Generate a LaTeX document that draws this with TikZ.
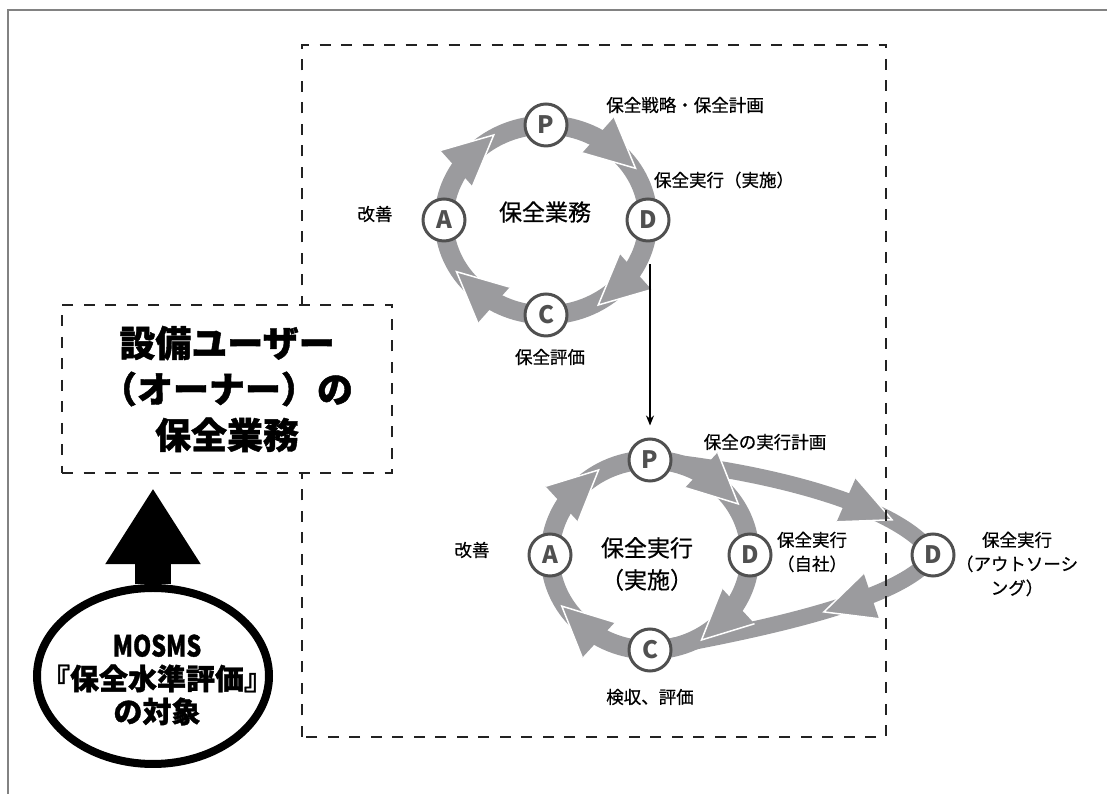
\documentclass[tikz,border=0pt]{standalone}
\usepackage{fontspec}
\usepackage{graphicx}
\setmainfont{Noto Sans CJK JP}
\newfontfamily\lblfont{Noto Sans CJK JP}[FakeBold=0.6]
\newfontfamily\heavyfont{Noto Sans CJK JP}[BoldFeatures={FakeBold=1.2}]
\usetikzlibrary{arrows.meta,shapes.geometric,decorations.markings}
\pgfdeclarelayer{bg}
\pgfsetlayers{bg,main}
\definecolor{ringgray}{RGB}{155,155,158}
\definecolor{nodegray}{RGB}{80,80,80}
\definecolor{dashc}{RGB}{34,34,34}
\definecolor{framegray}{RGB}{130,130,130}
\newcommand\ringhead{\fill[ringgray] (-25,24) -- (25,0) -- (-25,-24) -- cycle;
  \draw[white,line width=1.5pt,line join=miter] (-25,24) -- (25,0) -- (-25,-24);}
\begin{document}
\begin{tikzpicture}[x=1pt,y=1pt,
  pdca/.style={circle, draw=nodegray, line width=3pt, fill=white, minimum size=42pt, inner sep=0pt,
    font=\fontsize{24}{24}\selectfont\bfseries, text=nodegray},
  lbl/.style={font=\lblfont\fontsize{17.5}{24}\selectfont, align=center, inner sep=0pt},
  biglbl/.style={font=\lblfont\fontsize{23}{32}\selectfont, align=center, inner sep=0pt},
  ring/.style={draw=ringgray, line width=19pt},
  oring/.style={draw=ringgray, line width=16pt},
  headat/.style={postaction={decorate}, decoration={markings, mark=at position #1 with {\ringhead}}},
  dashbox/.style={draw=dashc, line width=2.5pt, dash pattern=on 11pt off 10.5pt}
]
\useasboundingbox (0,0) rectangle (1107,794);
\draw[framegray, line width=2pt] (8,0) -- (8,784) -- (1107,784);
\draw[dashbox] (302,57) rectangle (886,749);

% left box
\node[dashbox, fill=white, minimum width=330pt, minimum height=168pt, inner sep=0pt,
  font=\heavyfont\fontsize{36}{46}\selectfont\bfseries, align=center] (box) at (227,405)
  {設備ユーザー\\（オーナー）の\\保全業務};

% ellipse
\node[ellipse, draw=black, line width=8pt, fill=white, minimum width=232pt, minimum height=176pt,
  inner sep=0pt] (ell) at (153,118) {};
\node[font=\heavyfont\fontsize{29}{33}\selectfont\bfseries, align=center, inner sep=0pt] (elltext) at (157,114)
  {\scalebox{0.8}[1]{MOSMS}\\『保全水準評価』\\の対象};
\begin{pgfonlayer}{bg}
\draw[line width=36pt, -{Triangle[length=76pt,width=90pt]}, shorten >=14pt] (ell.north) -- (ell.north |- box.south);
\end{pgfonlayer}

% top cycle
\node[pdca] (tP) at (546,669) {P};
\node[pdca] (tD) at (648,574) {D};
\node[pdca] (tC) at (546,479) {C};
\node[pdca] (tA) at (444,574) {A};
\node[biglbl] (tcap) at (545,582) {保全業務};
\node[lbl] (tPl) at (685,689) {保全戦略・保全計画};
\node[lbl] (tDl) at (724,614) {保全実行（実施）};
\node[lbl] (tCl) at (550,437) {保全評価};
\node[lbl] (tAl) at (375,580) {改善};

% bottom cycle
\node[pdca] (bP) at (650,334) {P};
\node[pdca] (bD) at (750,239) {D};
\node[pdca] (bC) at (650,144) {C};
\node[pdca] (bA) at (550,239) {A};
\node[pdca] (bDo) at (933,239) {D};
\node[biglbl] (bcap) at (647,230) {保全実行\\（実施）};
\node[lbl] (bPl) at (765,352) {保全の実行計画};
\node[lbl] (bDl) at (812,242) {保全実行\\（自社）};
\node[lbl] (bDol) at (1017,230) {保全実行\\（アウトソーシ\\ング）};
\node[lbl] (bCl) at (650,97) {検収、評価};
\node[lbl] (bAl) at (472,244) {改善};

% link arrow
\draw[line width=1.5pt, -{Stealth[length=10pt,width=8pt]}, shorten <=22pt, shorten >=12pt]
  (tD.south -| bP.north) -- (bP.north);

\begin{pgfonlayer}{bg}
% bands
\draw[ring] (tP.center) to[out=0,in=90] (tD.center) to[out=-90,in=0] (tC.center)
  to[out=180,in=-90] (tA.center) to[out=90,in=180] (tP.center);
\draw[ring] (bP.center) to[out=0,in=90] (bD.center) to[out=-90,in=0] (bC.center)
  to[out=180,in=-90] (bA.center) to[out=90,in=180] (bP.center);
\draw[oring] (bP.center) .. controls (760,324) and (900,290) .. (bDo.center);
\draw[oring] (bDo.center) .. controls (905,194) and (760,164) .. (bC.center);
% heads
\path[headat=0.5] (tP.center) to[out=0,in=90] (tD.center);
\path[headat=0.5] (tD.center) to[out=-90,in=0] (tC.center);
\path[headat=0.5] (tC.center) to[out=180,in=-90] (tA.center);
\path[headat=0.5] (tA.center) to[out=90,in=180] (tP.center);
\path[headat=0.5] (bP.center) to[out=0,in=90] (bD.center);
\path[headat=0.5] (bD.center) to[out=-90,in=0] (bC.center);
\path[headat=0.5] (bC.center) to[out=180,in=-90] (bA.center);
\path[headat=0.5] (bA.center) to[out=90,in=180] (bP.center);
\path[headat=0.74] (bP.center) .. controls (760,324) and (900,290) .. (bDo.center);
\path[headat=0.33] (bDo.center) .. controls (905,194) and (760,164) .. (bC.center);
\end{pgfonlayer}
\end{tikzpicture}
\end{document}
